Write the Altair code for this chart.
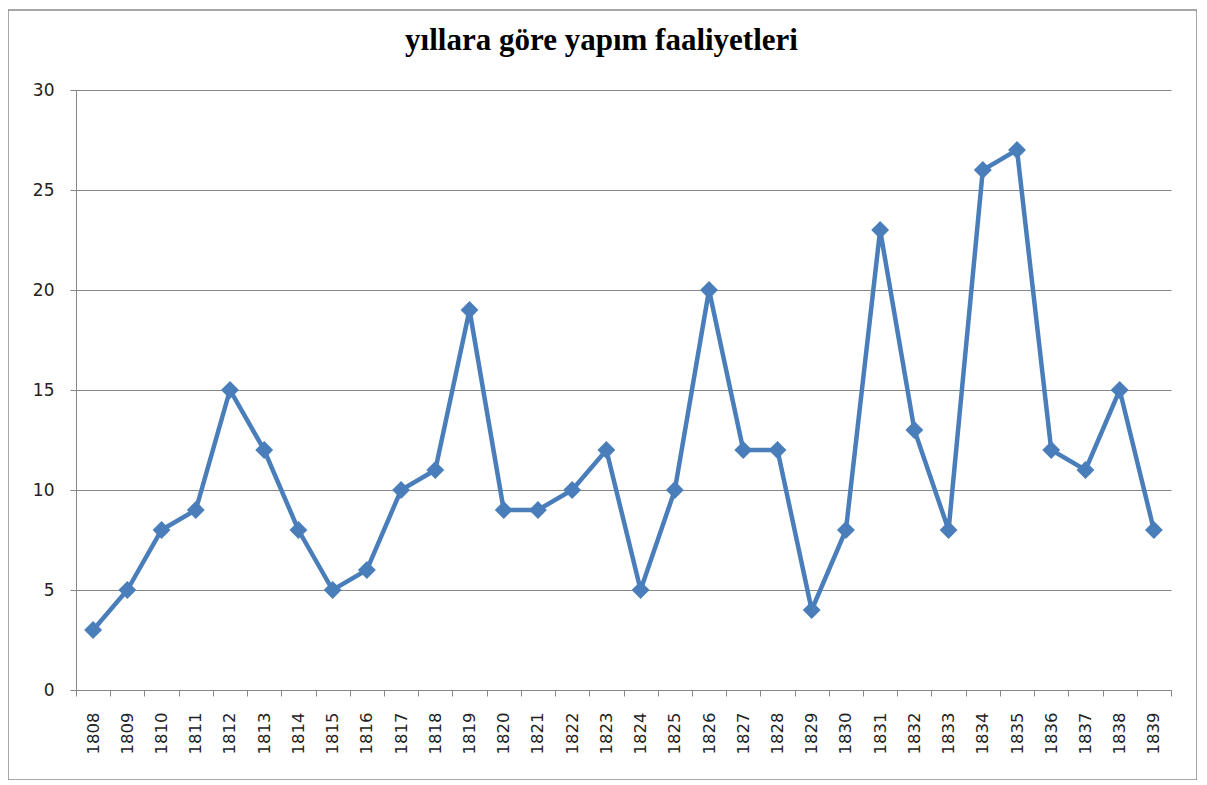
import altair as alt
import pandas as pd

years = [str(y) for y in range(1808, 1840)]
values = [3, 5, 8, 9, 15, 12, 8, 5, 6, 10, 11, 19, 9, 9, 10, 12, 5, 10, 20, 12,
          12, 4, 8, 23, 13, 8, 26, 27, 12, 11, 15, 8]
y_ticks = [0, 5, 10, 15, 20, 25, 30]
title_text = "yıllara göre yapım faaliyetleri"

df = pd.DataFrame({"yil": years, "deger": values})

LINE = "#4A7EBB"
GRAY = "#868686"

x_enc = alt.X(
    "yil:O",
    sort=years,
    scale=alt.Scale(paddingInner=0, paddingOuter=0),
    axis=alt.Axis(
        title=None, labelAngle=-90, labelAlign="right", labelBaseline="middle",
        tickBand="extent", tickSize=6, tickColor=GRAY, domainColor=GRAY,
        labelPadding=16, labelFont="DejaVu Sans", labelFontSize=16.5,
        labelColor="#222", grid=False,
    ),
)
y_enc = alt.Y(
    "deger:Q",
    scale=alt.Scale(domain=[0, 30], nice=False),
    axis=alt.Axis(
        title=None, values=y_ticks, tickSize=6, tickColor=GRAY, domainColor=GRAY,
        gridColor=GRAY, gridWidth=1, labelPadding=16, labelFont="DejaVu Sans",
        labelFontSize=17, labelColor="#222",
    ),
)

line = alt.Chart(df).mark_line(color=LINE, strokeWidth=4.5).encode(x=x_enc, y=y_enc)
pts = alt.Chart(df).mark_point(
    shape="diamond", filled=True, color=LINE, size=320, opacity=1
).encode(x=x_enc, y=y_enc)

border = alt.Chart(pd.DataFrame({"k": [0]})).mark_rect(
    fill=None, stroke="#8a8a8a", strokeWidth=1.5, clip=False
).encode(
    x=alt.value(-68), x2=alt.value(1121), y=alt.value(-80), y2=alt.value(690)
)

chart = alt.layer(border, line, pts).properties(
    width=1095,
    height=600,
    title=alt.TitleParams(
        text=title_text, font="Liberation Serif", fontSize=31, fontWeight="bold",
        color="#000", anchor="middle", dx=-22, offset=-48,
    ),
    autosize=alt.AutoSizeParams(type="none"),
    padding={"left": 68, "top": 82, "right": 26, "bottom": 90},
).configure_view(stroke=None)

chart.save("out.html", embed_options={"renderer": "svg", "actions": False})
